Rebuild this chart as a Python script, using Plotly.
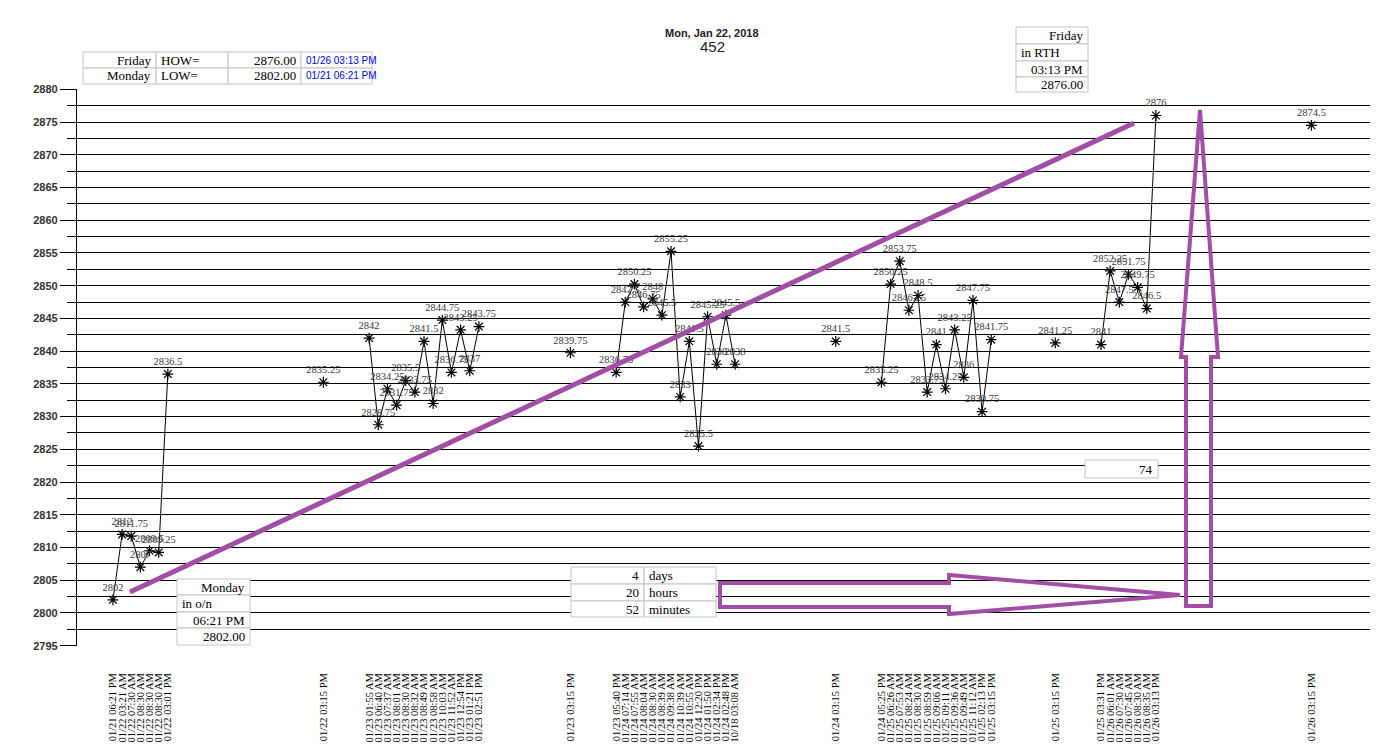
import plotly.graph_objects as go

# ticks along the bottom (one per point)
times = [
    "01/21 06:21 PM", "01/22 03:21 AM", "01/22 07:30 AM", "01/22 08:30 AM", "01/22 08:30 AM", "01/22 08:30 AM", "01/22 03:01 PM",
    "01/22 03:15 PM",
    "01/23 01:55 AM", "01/23 06:40 AM", "01/23 07:37 AM", "01/23 08:01 AM", "01/23 08:30 AM", "01/23 08:32 AM", "01/23 08:49 AM",
    "01/23 08:58 AM", "01/23 10:03 AM", "01/23 11:52 AM", "01/23 12:54 PM", "01/23 01:21 PM", "01/23 02:51 PM",
    "01/23 03:15 PM",
    "01/23 05:40 PM", "01/24 07:14 AM", "01/24 07:55 AM", "01/24 08:04 AM", "01/24 08:30 AM", "01/24 08:39 AM", "01/24 09:38 AM",
    "01/24 10:39 AM", "01/24 10:55 AM", "01/24 12:20 PM", "01/24 01:50 PM", "01/24 02:34 PM", "01/24 02:48 PM", "10/18 03:08 AM",
    "01/24 03:15 PM",
    "01/24 05:25 PM", "01/25 06:26 AM", "01/25 07:53 AM", "01/25 08:24 AM", "01/25 08:30 AM", "01/25 08:59 AM", "01/25 09:06 AM",
    "01/25 09:11 AM", "01/25 09:36 AM", "01/25 09:49 AM", "01/25 11:12 AM", "01/25 02:13 PM", "01/25 03:15 PM",
    "01/25 03:15 PM",
    "01/25 03:31 PM", "01/26 06:01 AM", "01/26 07:30 AM", "01/26 07:45 AM", "01/26 08:30 AM", "01/26 08:35 AM", "01/26 03:13 PM",
    "01/26 03:15 PM",
]

prices = [
    2802, 2812, 2811.75, 2807, 2809.5, 2809.25, 2836.5,
    2835.25,
    2842, 2828.75, 2834.25, 2831.75, 2835.5, 2833.75, 2841.5, 2832, 2844.75, 2836.75, 2843.25, 2837, 2843.75,
    2839.75,
    2836.75, 2847.5, 2850.25, 2846.75, 2848, 2845.5, 2855.25, 2833, 2841.5, 2825.5, 2845.25, 2838, 2845.5, 2838,
    2841.5,
    2835.25, 2850.25, 2853.75, 2846.25, 2848.5, 2833.75, 2841, 2834.25, 2843.25, 2836, 2847.75, 2830.75, 2841.75,
    2841.25,
    2841, 2852.25, 2847.5, 2851.75, 2849.75, 2846.5, 2876,
    2874.5,
]

# slot on the time axis (empty slots between sessions)
slots = [
    0, 1, 2, 3, 4, 5, 6,
    23,
    28, 29, 30, 31, 32, 33, 34, 35, 36, 37, 38, 39, 40,
    50,
    55, 56, 57, 58, 59, 60, 61, 62, 63, 64, 65, 66, 67, 68,
    79,
    84, 85, 86, 87, 88, 89, 90, 91, 92, 93, 94, 95, 96,
    103,
    108, 109, 110, 111, 112, 113, 114,
    131,
]

hl_rows = [["Friday", "HOW=", "2876.00", "01/26 03:13 PM"],
           ["Monday", "LOW=", "2802.00", "01/21 06:21 PM"]]
high_box = ["Friday", "in RTH", "03:13 PM", "2876.00"]
low_box = ["Monday", "in o/n", "06:21 PM", "2802.00"]
span_rows = [["4", "days"], ["20", "hours"], ["52", "minutes"]]
range_box = "74"

PURPLE = "#A24DA6"
SERIF = "Liberation Serif"
SANS = "Liberation Sans"

# plot area in page pixels
L, R, T, B = 77, 1370, 89, 646


def px(x):
    return (x - L) / (R - L)


def py(y):
    return (B - y) / (B - T)


# break the line where slots are not consecutive
xs, ys, txt = [], [], []
for i, (s, p) in enumerate(zip(slots, prices)):
    if i and s - slots[i - 1] > 1:
        xs.append(None)
        ys.append(None)
        txt.append("")
    xs.append(s)
    ys.append(p)
    txt.append(f"{p:g}")

fig = go.Figure()
fig.add_trace(go.Scatter(
    x=xs, y=ys, mode="lines+markers+text", text=txt, textposition="top center",
    textfont=dict(family=SERIF, size=10.5, color="#3a3a3a"),
    line=dict(color="black", width=1),
    marker=dict(symbol="asterisk", size=9, color="black", line=dict(color="black", width=1.2)),
    connectgaps=False, hoverinfo="x+y",
))

shapes = []
annos = []


def cell(x0, x1, y0, y1, text, align="right", color="black", size=13, family=SERIF):
    shapes.append(dict(type="rect", xref="paper", yref="paper", x0=px(x0), x1=px(x1), y0=py(y1), y1=py(y0),
                       line=dict(color="#c4c4c4", width=1), fillcolor="white", layer="above"))
    if align == "right":
        ax, anchor = x1 - 3, "right"
    else:
        ax, anchor = x0 + 3, "left"
    annos.append(dict(xref="paper", yref="paper", x=px(ax), y=py((y0 + y1) / 2), text=text, showarrow=False,
                      xanchor=anchor, yanchor="middle", font=dict(family=family, size=size, color=color)))


# HOW / LOW table
cols = [83, 156, 228, 301, 372]
rows = [52, 68, 84]
for r, row in enumerate(hl_rows):
    for c, val in enumerate(row):
        if c == 3:
            cell(cols[c], cols[c + 1], rows[r], rows[r + 1], val, "left", "blue", 10, SANS)
        else:
            cell(cols[c], cols[c + 1], rows[r], rows[r + 1], val, "left" if c == 1 else "right")

# high / low boxes
hb_rows = [27, 44, 61, 77, 92]
for i, val in enumerate(high_box):
    cell(1016, 1088, hb_rows[i], hb_rows[i + 1], val, "left" if i == 1 else "right")
lb_rows = [579, 595, 612, 628, 645]
for i, val in enumerate(low_box):
    cell(177, 250, lb_rows[i], lb_rows[i + 1], val, "left" if i == 1 else "right")

# time span table
sp_rows = [567, 584, 601, 617]
for i, (n, unit) in enumerate(span_rows):
    cell(571, 644, sp_rows[i], sp_rows[i + 1], n, "right")
    cell(644, 716, sp_rows[i], sp_rows[i + 1], unit, "left")

cell(1085, 1158, 460, 478, range_box, "right")


# purple drawings
def poly(points):
    d = "M " + " L ".join(f"{px(x):.5f},{py(y):.5f}" for x, y in points) + " Z"
    return dict(type="path", xref="paper", yref="paper", path=d, line=dict(color=PURPLE, width=4), layer="above")


shapes.append(dict(type="line", xref="paper", yref="paper", x0=px(130), y0=py(592), x1=px(1134), y1=py(123),
                   line=dict(color=PURPLE, width=5), layer="above"))
shapes.append(poly([(720, 583), (949, 583), (949, 575), (1180, 595), (949, 614), (949, 607), (720, 607)]))
shapes.append(poly([(1186, 606), (1186, 357), (1181, 357), (1200, 110), (1218, 357), (1211, 357), (1211, 606)]))

annos.append(dict(xref="paper", yref="paper", x=px(712), y=py(33), text="<b>Mon, Jan 22, 2018</b>", showarrow=False,
                  xanchor="center", yanchor="middle", font=dict(family=SANS, size=11, color="#222")))
annos.append(dict(xref="paper", yref="paper", x=px(712), y=py(47), text="452", showarrow=False,
                  xanchor="center", yanchor="middle", font=dict(family=SANS, size=15, color="#222")))

fig.update_layout(
    width=1382, height=754,
    margin=dict(l=L, r=1382 - R, t=T, b=754 - B, autoexpand=False),
    plot_bgcolor="white", paper_bgcolor="white",
    showlegend=False,
    shapes=shapes, annotations=annos,
    xaxis=dict(range=[-3.93, 137.4], tickmode="array", tickvals=slots, ticktext=times, tickangle=-90,
               tickfont=dict(family=SERIF, size=10.5, color="black"), showgrid=False, zeroline=False,
               showline=False, ticks="", ticklabelstandoff=24, automargin=False),
    yaxis=dict(range=[2794.95, 2880.05], tick0=2795, dtick=5, showline=True, linecolor="black", linewidth=1.3,
               gridcolor="black", gridwidth=1.3, zeroline=False, ticks="outside", ticklen=16, tickcolor="black",
               tickwidth=1.3, tickfont=dict(family=SANS, size=11, color="#333", weight="bold"), automargin=False,
               minor=dict(dtick=2.5, showgrid=True, gridcolor="black", gridwidth=1.3, ticks="outside",
                          ticklen=9, tickcolor="black", tickwidth=1.3)),
)

# page body margin would push the figure off by 8px
fig.write_html("out.html", config={"displayModeBar": False},
               post_script="document.body.style.margin='0';")
